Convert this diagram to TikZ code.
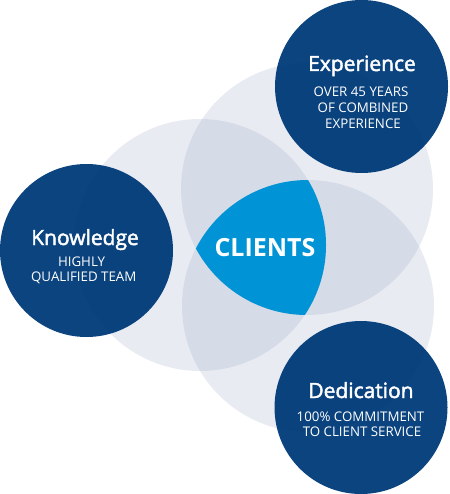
\documentclass[tikz,border=0pt]{standalone}
\usepackage{fontspec}
\setmainfont{Open Sans}
\definecolor{darkb}{HTML}{013C7A}
\definecolor{lightc}{RGB}{140,155,190}
\definecolor{clientc}{HTML}{0093D6}
\newcommand\myheavy[1]{\special{pdf:literal direct 2 Tr 0.45 w}#1\special{pdf:literal direct 0 Tr}}
\tikzset{
  venn/.style={fill=lightc, fill opacity=0.2},
  darkcircle/.style={circle, fill=darkb, fill opacity=0.96, minimum size=173pt, inner sep=0pt},
  titletext/.style={anchor=base, text=white, inner sep=0pt, font=\fontsize{21}{24}\selectfont},
  subtext/.style={anchor=base, text=white, inner sep=0pt, font=\fontsize{13.3}{16}\selectfont},
  clienttext/.style={anchor=base, text=white, inner sep=0pt, font=\bfseries\fontsize{25}{30}\selectfont}
}
\begin{document}
\begin{tikzpicture}[x=1pt,y=-1pt]
\useasboundingbox (0,0) rectangle (449,494);
\fill[venn] (200,245) circle (126pt);
\fill[venn] (307,189) circle (126pt);
\fill[venn] (308,306) circle (126pt);
\begin{scope}
  \clip (200,245) circle (126pt);
  \clip (307,189) circle (126pt);
  \fill[clientc] (308,306) circle (126pt);
\end{scope}
\node[darkcircle] (exp) at (361.5,86.5) {};
\node[darkcircle] (know) at (86.5,250.5) {};
\node[darkcircle] (ded) at (361,407.5) {};
\node[clienttext] (clients) at (265,256) {CLIENTS};
\node[titletext] (expT) at (362,71) {\myheavy{Experience}};
\node[subtext] (expS1) at (361,96.7) {OVER 45 YEARS};
\node[subtext] (expS2) at (363,112.7) {OF COMBINED};
\node[subtext] (expS3) at (363,128.7) {EXPERIENCE};
\node[titletext] (knowT) at (85,245) {\myheavy{Knowledge}};
\node[subtext] (knowS1) at (81.5,266) {HIGHLY};
\node[subtext] (knowS2) at (83.7,281.7) {QUALIFIED TEAM};
\node[titletext] (dedT) at (361,398) {\myheavy{Dedication}};
\node[subtext] (dedS1) at (360.5,421) {100\% COMMITMENT};
\node[subtext] (dedS2) at (362,436.7) {TO CLIENT SERVICE};
\end{tikzpicture}
\end{document}
